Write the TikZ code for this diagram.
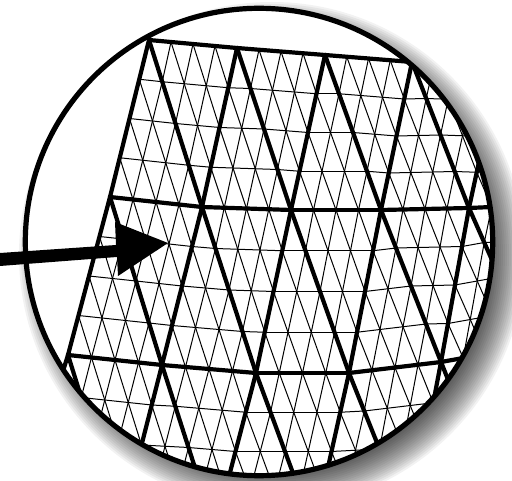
\documentclass[tikz,border=0pt]{standalone}
\usetikzlibrary{calc}
\tikzset{
  fine/.style={line width=1pt,black},
  coarse/.style={line width=4.2pt,black,line cap=round},
  rim/.style={line width=5.2pt,black},
  pointer/.style={fill=black,draw=none}
}
\newcommand\subtri[3]{%
  \foreach \t in {.25,.5,.75}{%
    \draw[fine] ($(#1)!\t!(#2)$)--($(#1)!\t!(#3)$);
    \draw[fine] ($(#2)!\t!(#1)$)--($(#2)!\t!(#3)$);
    \draw[fine] ($(#3)!\t!(#1)$)--($(#3)!\t!(#2)$);
  }%
}
\begin{document}
\begin{tikzpicture}[x=1pt,y=-1pt]
\useasboundingbox (0,0) rectangle (512,481);
\fill[white] (0,0) rectangle (512,481);
% soft shadow
\begin{scope}
\clip (0,0) rectangle (512,481);
\foreach \d in {20,18,...,-20}{
  \fill[black,opacity=0.05] (272,255) circle ({233+\d});
}
\end{scope}
\fill[white] (259,242) circle (233.7);
% coarse vertices
\foreach \c/\x/\y in {0/149/40,1/237/48,2/325/55,3/412/62,4/500/65,5/590/60,6/680/55}{\coordinate (v0-\c) at (\x,\y);}
\foreach \c/\x/\y in {0/110/197,1/202/207,2/291/210,3/381/210,4/469/208,5/560/204,6/650/198}{\coordinate (v1-\c) at (\x,\y);}
\foreach \c/\x/\y in {0/68/355,1/162/365,2/256/373,3/349/373,4/441/362,5/530/346,6/620/330}{\coordinate (v2-\c) at (\x,\y);}
\foreach \c/\x/\y in {0/20/510,1/121/525,2/215/530,3/314/530,4/410/525,5/500/510,6/590/490}{\coordinate (v3-\c) at (\x,\y);}
\begin{scope}
\clip (259,242) circle (233.7);
\foreach \r/\n in {0/1,1/2,2/3}{
  \foreach \i/\j in {0/1,1/2,2/3,3/4,4/5,5/6}{
    \subtri{v\r-\i}{v\n-\i}{v\n-\j}
    \subtri{v\r-\i}{v\r-\j}{v\n-\j}
  }
}
\foreach \r/\n in {0/1,1/2,2/3}{
  \foreach \i/\j in {0/1,1/2,2/3,3/4,4/5,5/6}{
    \draw[coarse] (v\r-\i)--(v\n-\i);
    \draw[coarse] (v\r-\i)--(v\n-\j);
    \draw[coarse] (v\r-\i)--(v\r-\j);
  }
}
\end{scope}
\draw[rim] (259,242) circle (233.7);
% arrow
\coordinate (tail1) at (0,253);
\coordinate (tail2) at (0,266);
\coordinate (neck1) at (116,245);
\coordinate (neck2) at (117,257);
\coordinate (barbT) at (115,222);
\coordinate (barbB) at (118,276);
\coordinate (tip) at (168,243);
\fill[pointer] (tail1)--(neck1)--(barbT)--(tip)--(barbB)--(neck2)--(tail2)--cycle;
\end{tikzpicture}
\end{document}
